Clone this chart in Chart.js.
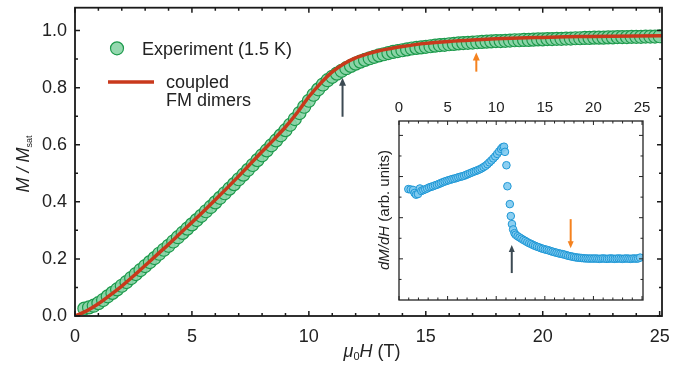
<!DOCTYPE html>
<html>
<head>
<meta charset="utf-8">
<script src="https://cdn.jsdelivr.net/npm/chart.js@4.4.0/dist/chart.umd.min.js"></script>
<style>
html, body { margin: 0; padding: 0; background: #fff; }
#wrap { position: relative; width: 676px; height: 373px; }
#main { position: absolute; left: 0; top: 0; }
#inset { position: absolute; left: 360px; top: 95px; }
</style>
</head>
<body>
<div id="wrap">
<canvas id="main" width="676" height="373"></canvas>
<canvas id="inset" width="295" height="215"></canvas>
</div>
<script>
// magnetization curve, experiment (1.5 K)
var expH = [0.4,0.6,0.8,1.0,1.2,1.4,1.6,1.8,2.0,2.2,
  2.4,2.6,2.8,3.0,3.2,3.4,3.6,3.8,4.0,4.2,
  4.4,4.6,4.8,5.0,5.2,5.4,5.6,5.8,6.0,6.2,
  6.4,6.6,6.8,7.0,7.2,7.4,7.6,7.8,8.0,8.2,
  8.4,8.6,8.8,9.0,9.2,9.4,9.6,9.8,10.0,10.2,
  10.4,10.6,10.8,11.0,11.2,11.4,11.6,11.8,12.0,12.2,
  12.4,12.6,12.8,13.0,13.2,13.4,13.6,13.8,14.0,14.2,
  14.4,14.6,14.8,15.0,15.2,15.4,15.6,15.8,16.0,16.2,
  16.4,16.6,16.8,17.0,17.2,17.4,17.6,17.8,18.0,18.2,
  18.4,18.6,18.8,19.0,19.2,19.4,19.6,19.8,20.0,20.2,
  20.4,20.6,20.8,21.0,21.2,21.4,21.6,21.8,22.0,22.2,
  22.4,22.6,22.8,23.0,23.2,23.4,23.6,23.8,24.0,24.2,
  24.4,24.6,24.8,25.0];
var expM = [0.026,0.030,0.036,0.045,0.056,0.069,0.081,0.093,0.106,0.119,
  0.133,0.147,0.161,0.175,0.189,0.203,0.218,0.232,0.246,0.261,
  0.276,0.291,0.306,0.321,0.336,0.351,0.367,0.382,0.398,0.414,
  0.430,0.446,0.462,0.479,0.495,0.512,0.529,0.546,0.563,0.580,
  0.598,0.615,0.633,0.651,0.670,0.690,0.711,0.733,0.754,0.775,
  0.794,0.811,0.826,0.838,0.849,0.859,0.868,0.876,0.884,0.891,
  0.897,0.903,0.908,0.913,0.917,0.921,0.925,0.928,0.931,0.934,
  0.937,0.939,0.941,0.943,0.945,0.947,0.949,0.950,0.952,0.953,
  0.955,0.956,0.957,0.958,0.959,0.960,0.961,0.962,0.963,0.963,
  0.964,0.965,0.966,0.966,0.967,0.967,0.968,0.969,0.969,0.970,
  0.970,0.971,0.971,0.972,0.972,0.973,0.973,0.974,0.974,0.975,
  0.975,0.975,0.976,0.976,0.977,0.977,0.977,0.978,0.978,0.978,
  0.979,0.979,0.979,0.980];

// coupled FM dimers model
var modelH = [0,0.5,1,1.5,2,2.5,3,3.5,4,4.5,5,5.5,6,6.5,7,7.5,8,8.5,9,9.5,
  10,10.5,11,11.5,12,12.5,13,13.5,14,15,16,17,18,19,20,21,22,23,24,25.1];
var modelM = [0,0.018,0.043,0.073,0.105,0.14,0.177,0.214,0.251,0.29,0.328,0.367,0.407,0.448,0.49,0.533,0.576,0.618,0.662,0.712,
  0.768,0.815,0.855,0.884,0.904,0.918,0.929,0.937,0.944,0.955,0.962,0.967,0.971,0.974,0.976,0.978,0.979,0.980,0.981,0.982];

// inset: dM/dH (arb. units)
var dH = [0.96,1.2,1.45,1.6,1.75,1.95,2.15,2.3,2.5,2.7,2.9,3.1,3.3,3.5,3.7,3.9,4.1,4.3,4.5,4.7,
  4.9,5.1,5.3,5.5,5.7,5.9,6.1,6.3,6.5,6.7,6.9,7.1,7.3,7.5,7.7,7.9,8.1,8.3,8.5,8.7,
  8.9,9.1,9.3,9.5,9.7,9.9,10.1,10.3,10.5,10.65,10.8,10.9,11.05,11.15,11.4,11.5,11.62,11.74,11.88,12.0,
  12.2,12.4,12.6,12.8,13.0,13.2,13.4,13.6,13.8,14.0,14.2,14.4,14.6,14.8,15.0,15.2,15.4,15.6,15.8,16.0,
  16.2,16.4,16.6,16.8,17.0,17.2,17.4,17.6,17.8,18.0,18.2,18.4,18.6,18.8,19.0,19.2,19.4,19.6,19.8,20.0,
  20.2,20.4,20.6,20.8,21.0,21.2,21.4,21.6,21.8,22.0,22.2,22.4,22.6,22.8,23.0,23.2,23.4,23.6,23.8,24.0,
  24.2,24.4,24.6,24.8];
var dVal = [5.39,5.37,5.35,5.20,5.12,5.15,5.42,5.30,5.34,5.38,5.42,5.47,5.50,5.53,5.57,5.60,5.64,5.68,5.72,5.76,
  5.79,5.82,5.85,5.88,5.90,5.93,5.96,5.99,6.01,6.04,6.08,6.12,6.16,6.20,6.24,6.27,6.31,6.35,6.40,6.46,
  6.52,6.60,6.69,6.78,6.88,6.98,7.10,7.22,7.34,7.42,7.45,7.20,6.55,5.53,4.66,4.08,3.69,3.43,3.25,3.17,
  3.10,3.04,2.98,2.92,2.87,2.81,2.76,2.72,2.67,2.63,2.59,2.56,2.52,2.49,2.46,2.44,2.41,2.38,2.35,2.32,
  2.30,2.27,2.25,2.23,2.21,2.18,2.15,2.13,2.11,2.09,2.07,2.06,2.05,2.04,2.03,2.02,2.02,2.01,2.02,2.01,
  2.02,2.01,2.00,2.01,2.02,2.01,2.00,2.01,2.02,2.01,2.00,2.01,2.02,2.01,2.00,2.01,2.02,2.01,2.00,2.01,
  2.02,2.01,2.02,2.06];

// arrows: [x, tail y, tip y, colour]
var mainArrows = [[11.44, 0.698, 0.835, '#3c4a53'], [17.16, 0.856, 0.923, '#f5821f']];
var insetArrows = [[11.6, 1.31, 2.67, '#3c4a53'], [17.66, 3.93, 2.52, '#f5821f']];

var FONT = '"Liberation Sans", Arial, Helvetica, sans-serif';
Chart.defaults.font.family = FONT;
Chart.defaults.color = '#222';

var GREEN_FILL = 'rgba(138, 212, 166, 0.9)';
var GREEN_LINE = '#1d9a4c';
var RED = '#c9391c';

function pts(xs, ys) {
  return xs.map(function (x, i) { return { x: x, y: ys[i] }; });
}

// keep the plot area where it is: no extra room for edge labels
function fixX(h) {
  return function (s) { s.height = h; s.paddingLeft = 0; s.paddingRight = 0; };
}
function fixY(w) {
  return function (s) { s.width = w; s.paddingTop = 0; s.paddingBottom = 0; };
}

function drawTicks(ctx, sc, vals, len, horiz, a) {
  ctx.beginPath();
  vals.forEach(function (v) {
    var p = sc.getPixelForValue(v);
    if (horiz) {
      ctx.moveTo(p, a.bottom); ctx.lineTo(p, a.bottom - len);
      ctx.moveTo(p, a.top); ctx.lineTo(p, a.top + len);
    } else {
      ctx.moveTo(a.left, p); ctx.lineTo(a.left + len, p);
      ctx.moveTo(a.right, p); ctx.lineTo(a.right - len, p);
    }
  });
  ctx.stroke();
}

function richText(ctx, parts, x, y) {
  var w = 0;
  parts.forEach(function (p) { ctx.font = p[1]; w += ctx.measureText(p[0]).width; });
  var cx = x - w / 2;
  parts.forEach(function (p) {
    ctx.font = p[1];
    ctx.fillText(p[0], cx, y + (p[2] || 0));
    cx += ctx.measureText(p[0]).width;
  });
}

function drawArrow(ctx, xs, ys, a, head, hw) {
  var x = xs.getPixelForValue(a[0]);
  var y0 = ys.getPixelForValue(a[1]);
  var y1 = ys.getPixelForValue(a[2]);
  var dir = y1 < y0 ? -1 : 1;
  ctx.strokeStyle = a[3];
  ctx.fillStyle = a[3];
  ctx.lineWidth = 2;
  ctx.beginPath();
  ctx.moveTo(x, y0);
  ctx.lineTo(x, y1 - dir * head * 0.8);
  ctx.stroke();
  ctx.beginPath();
  ctx.moveTo(x, y1);
  ctx.lineTo(x - hw, y1 - dir * head);
  ctx.lineTo(x + hw, y1 - dir * head);
  ctx.closePath();
  ctx.fill();
}

var mainDeco = {
  id: 'mainDeco',
  afterDraw: function (chart) {
    var ctx = chart.ctx, a = chart.chartArea;
    var xs = chart.scales.x, ys = chart.scales.y;
    ctx.save();
    ctx.strokeStyle = '#1a1a1a';
    ctx.lineWidth = 1.5;
    var minorX = [], majorX = [], minorY = [], majorY = [];
    for (var i = 0; i <= 25; i++) (i % 5 === 0 ? majorX : minorX).push(i);
    for (var j = 0; j <= 10; j++) (j % 2 === 0 ? majorY : minorY).push(j / 10);
    drawTicks(ctx, xs, majorX, 5, true, a);
    drawTicks(ctx, xs, minorX, 3, true, a);
    drawTicks(ctx, ys, majorY, 5, false, a);
    drawTicks(ctx, ys, minorY, 3, false, a);
    ctx.lineWidth = 1.8;
    ctx.strokeRect(a.left, a.top, a.right - a.left, a.bottom - a.top);

    mainArrows.forEach(function (ar) { drawArrow(ctx, xs, ys, ar, 8, 3.5); });

    // legend
    ctx.beginPath();
    ctx.arc(117, 48.3, 6.5, 0, Math.PI * 2);
    ctx.fillStyle = GREEN_FILL; ctx.fill();
    ctx.lineWidth = 1.2; ctx.strokeStyle = GREEN_LINE; ctx.stroke();
    ctx.beginPath();
    ctx.moveTo(108, 82); ctx.lineTo(154, 82);
    ctx.lineWidth = 3.5; ctx.strokeStyle = RED; ctx.stroke();
    ctx.fillStyle = '#222';
    ctx.textAlign = 'left';
    ctx.textBaseline = 'alphabetic';
    ctx.font = '18px ' + FONT;
    ctx.fillText('Experiment (1.5 K)', 142, 54.5);
    ctx.fillText('coupled', 166, 87.5);
    ctx.fillText('FM dimers', 166, 106);

    // axis titles
    richText(ctx, [
      ['\u03bc', 'italic 18px ' + FONT],
      ['0', '11px ' + FONT, 3],
      ['H', 'italic 18px ' + FONT],
      [' (T)', '18px ' + FONT]
    ], 372, 357);
    ctx.save();
    ctx.translate(22, 164);
    ctx.rotate(-Math.PI / 2);
    richText(ctx, [
      ['M / M', 'italic 18px ' + FONT],
      ['sat', '9px ' + FONT, 3]
    ], 0, 6.5);
    ctx.restore();
    ctx.restore();
  }
};

var insetDeco = {
  id: 'insetDeco',
  afterDraw: function (chart) {
    var ctx = chart.ctx, a = chart.chartArea;
    var xs = chart.scales.x, ys = chart.scales.y;
    ctx.save();
    ctx.strokeStyle = '#222';
    ctx.lineWidth = 1;
    var minorX = [], majorX = [], minorY = [], majorY = [];
    for (var i = 0; i <= 25; i++) (i % 5 === 0 ? majorX : minorX).push(i);
    for (var j = 1; j <= 8; j++) (j % 2 === 0 ? majorY : minorY).push(j);
    drawTicks(ctx, xs, majorX, 4, true, a);
    drawTicks(ctx, xs, minorX, 2.5, true, a);
    drawTicks(ctx, ys, majorY, 4, false, a);
    drawTicks(ctx, ys, minorY, 2.5, false, a);
    ctx.lineWidth = 1.3;
    ctx.strokeRect(a.left, a.top, a.right - a.left, a.bottom - a.top);

    insetArrows.forEach(function (ar) { drawArrow(ctx, xs, ys, ar, 7, 3); });

    ctx.fillStyle = '#222';
    ctx.textAlign = 'left';
    ctx.textBaseline = 'alphabetic';
    ctx.save();
    ctx.translate(23, 115);
    ctx.rotate(-Math.PI / 2);
    richText(ctx, [
      ['dM/dH', 'italic 15px ' + FONT],
      [' (arb. units)', '15px ' + FONT]
    ], 0, 5.5);
    ctx.restore();
    ctx.restore();
  }
};

new Chart(document.getElementById('main').getContext('2d'), {
  type: 'scatter',
  data: {
    datasets: [{
      label: 'coupled FM dimers',
      data: pts(modelH, modelM),
      showLine: true,
      borderColor: RED,
      borderWidth: 3.5,
      pointRadius: 0,
      cubicInterpolationMode: 'monotone'
    }, {
      label: 'Experiment (1.5 K)',
      data: pts(expH, expM),
      pointRadius: 6.5,
      pointBackgroundColor: GREEN_FILL,
      pointBorderColor: GREEN_LINE,
      pointBorderWidth: 1.2
    }]
  },
  options: {
    responsive: false,
    animation: false,
    layout: { padding: { top: 7, right: 14, left: 0, bottom: 0 } },
    plugins: { legend: { display: false }, tooltip: { enabled: false } },
    scales: {
      x: {
        type: 'linear', min: 0, max: 25.1,
        grid: { display: false, drawTicks: false },
        border: { display: false },
        ticks: { stepSize: 5, includeBounds: false, padding: 10, font: { size: 18 }, color: '#222' },
        afterFit: fixX(57)
      },
      y: {
        type: 'linear', min: 0, max: 1.08,
        grid: { display: false, drawTicks: false },
        border: { display: false },
        ticks: {
          stepSize: 0.2, includeBounds: false, padding: 8, font: { size: 18 }, color: '#222',
          callback: function (v) { return v.toFixed(1); }
        },
        afterFit: fixY(75)
      }
    }
  },
  plugins: [mainDeco]
});

new Chart(document.getElementById('inset').getContext('2d'), {
  type: 'scatter',
  data: {
    datasets: [{
      label: 'dM/dH',
      data: pts(dH, dVal),
      pointRadius: 3.8,
      pointBackgroundColor: 'rgba(128, 202, 240, 0.9)',
      pointBorderColor: '#1e97d5',
      pointBorderWidth: 1
    }]
  },
  options: {
    responsive: false,
    animation: false,
    layout: { padding: { top: 0, right: 12, left: 0, bottom: 10 } },
    plugins: { legend: { display: false }, tooltip: { enabled: false } },
    scales: {
      x: {
        type: 'linear', position: 'top', min: 0, max: 25.1,
        grid: { display: false, drawTicks: false },
        border: { display: false },
        ticks: { stepSize: 5, includeBounds: false, padding: 4, font: { size: 15 }, color: '#222' },
        afterFit: fixX(26)
      },
      y: {
        type: 'linear', min: 0, max: 8.7,
        grid: { display: false, drawTicks: false },
        border: { display: false },
        ticks: { display: false, stepSize: 1 },
        afterFit: fixY(39)
      }
    }
  },
  plugins: [insetDeco]
});
</script>
</body>
</html>
